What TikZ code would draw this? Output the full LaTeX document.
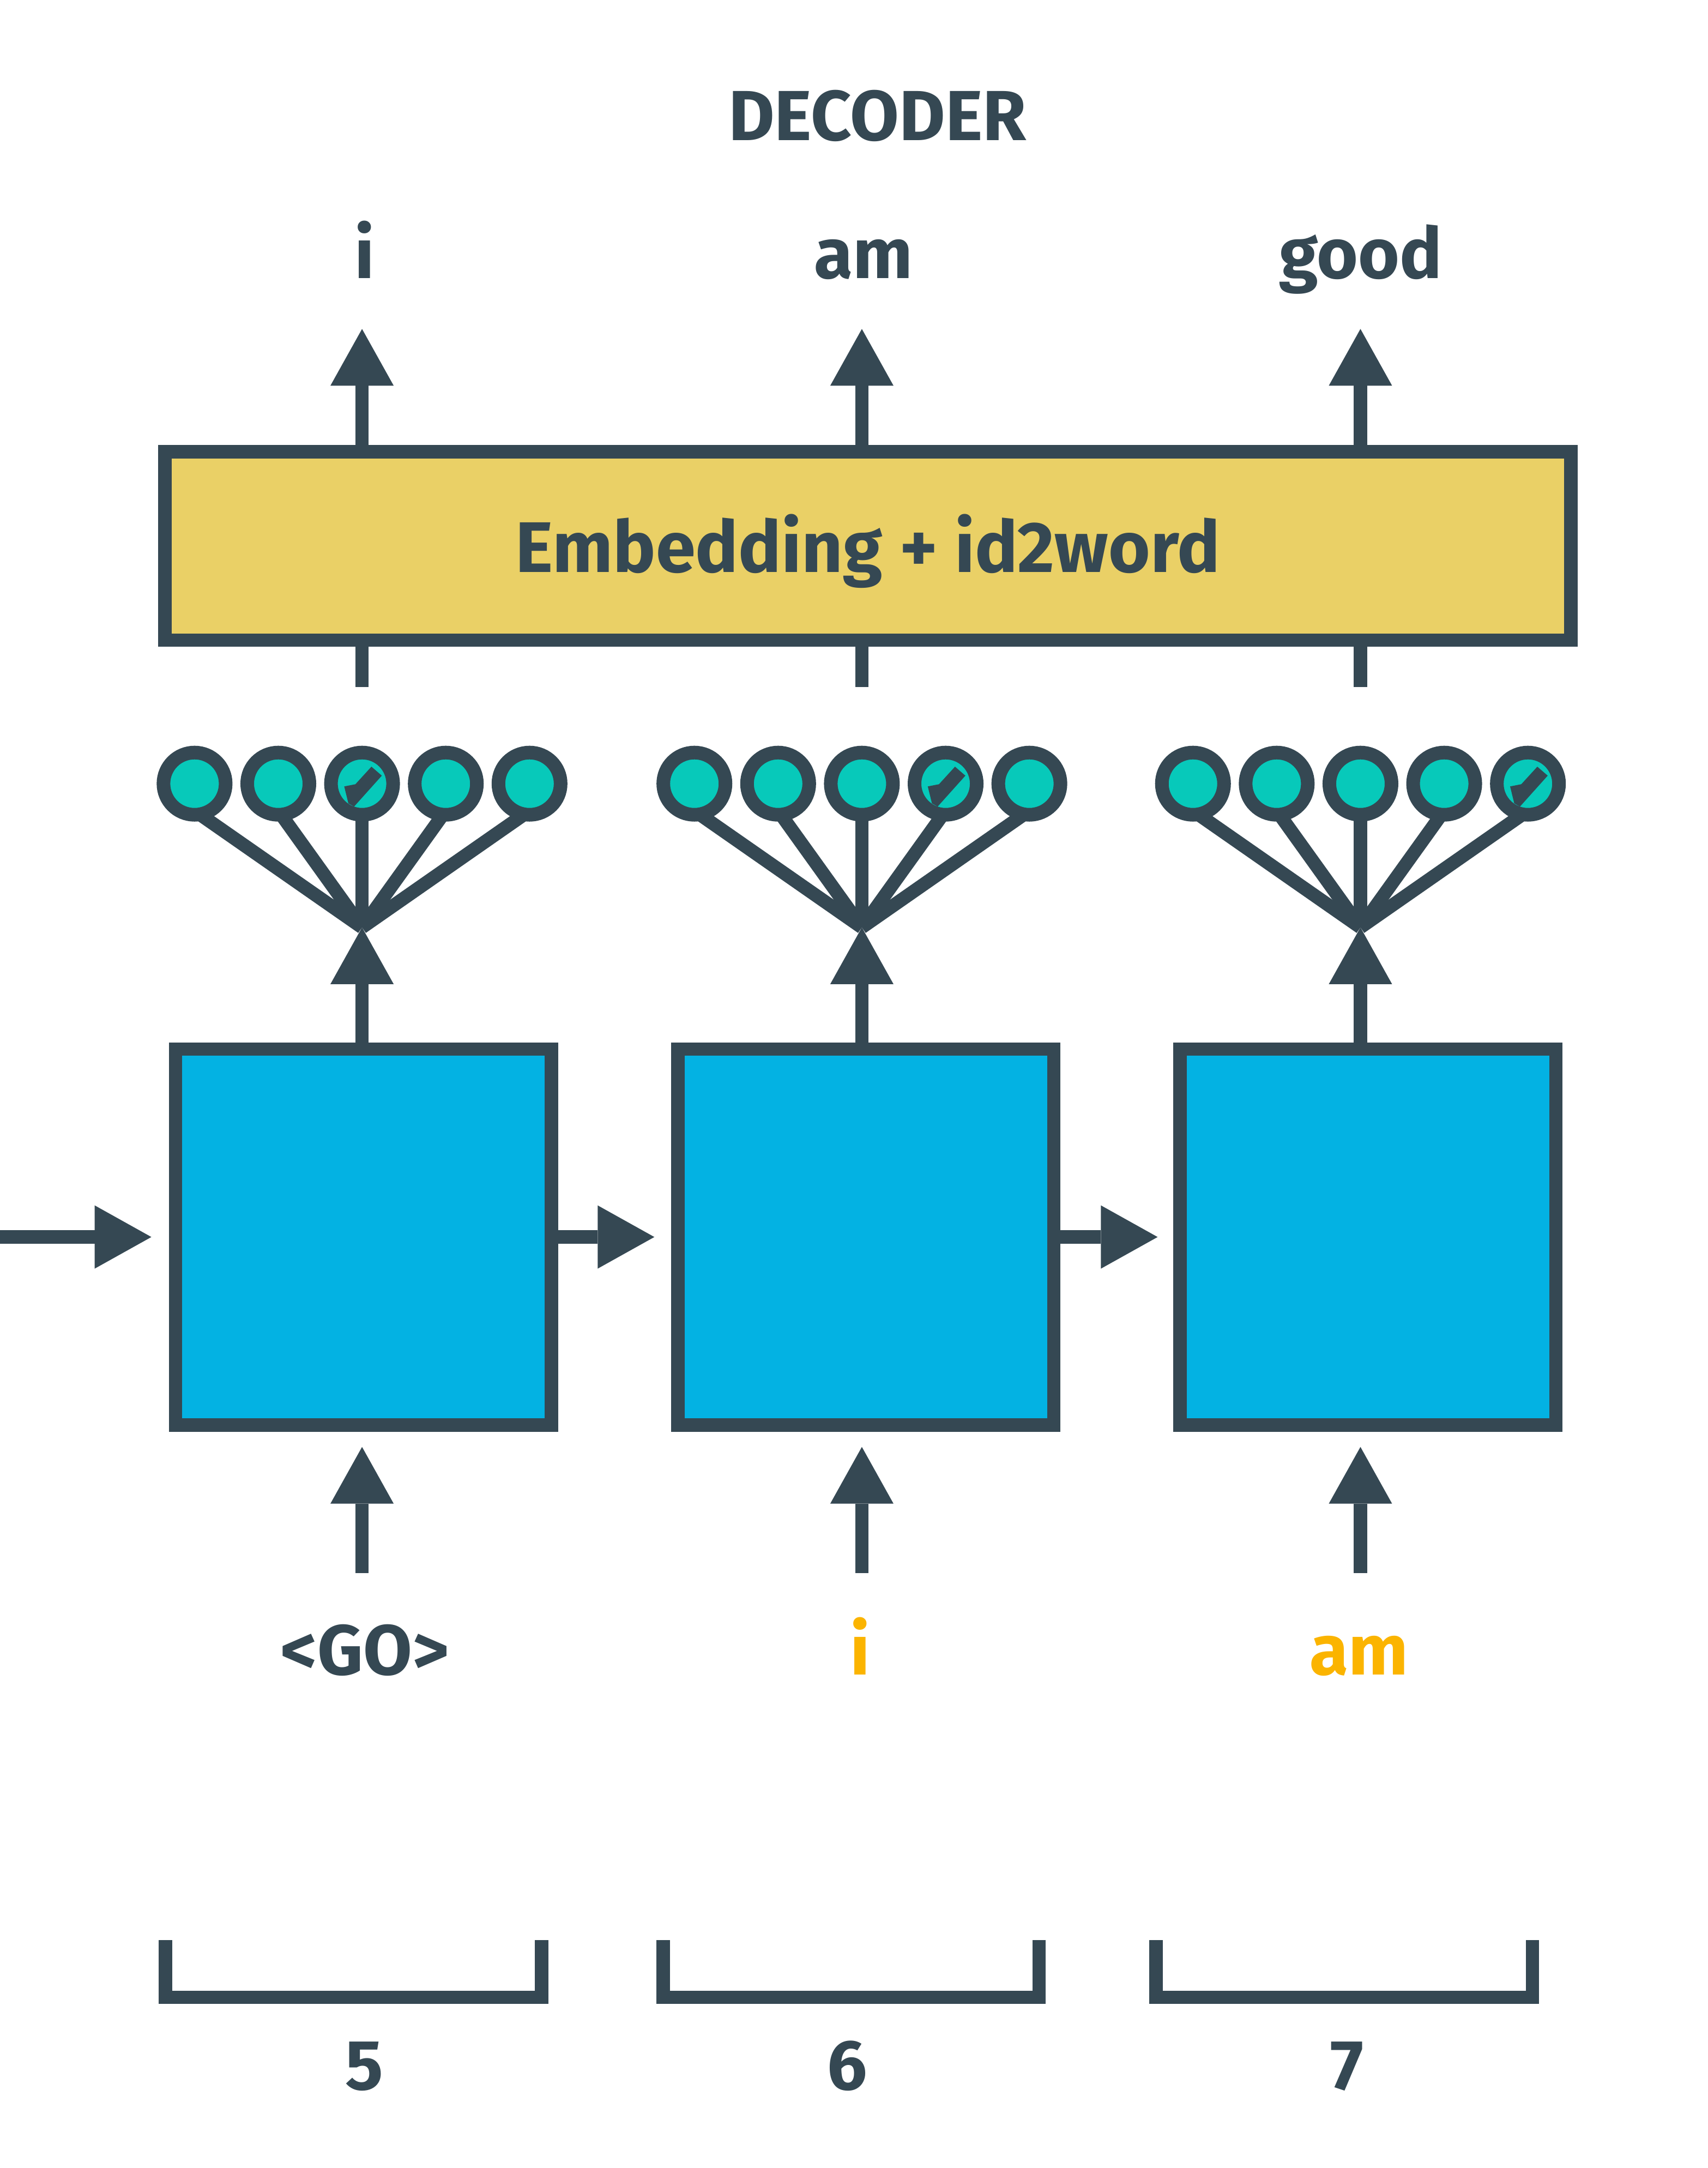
\documentclass[tikz,border=0pt]{standalone}
\usepackage{fontspec}
\setmainfont{Fira Sans}
\usetikzlibrary{arrows.meta,backgrounds}
\definecolor{inkcolor}{HTML}{354853}
\definecolor{cellcolor}{HTML}{03B2E3}
\definecolor{embedcolor}{HTML}{EAD066}
\definecolor{softcolor}{HTML}{07C9BA}
\definecolor{wordcolor}{HTML}{FBB400}
\newcommand{\pxu}{0.25348mm}
\tikzset{
  line/.style={draw=inkcolor,line width=2.45mm},
  arr/.style={line,-{Triangle[length=10.4mm,width=11.6mm,line width=0pt]}},
  cell/.style={line,fill=cellcolor,minimum width=272*\pxu,minimum height=272*\pxu,inner sep=0pt},
  embed/.style={line,fill=embedcolor,minimum width=1017.5*\pxu,minimum height=136.2*\pxu,
    inner sep=0pt,text height=9.6mm,text depth=0pt},
  soft/.style={circle,draw=inkcolor,line width=2.5mm,fill=softcolor,minimum size=45*\pxu,inner sep=0pt},
  word/.style={text=inkcolor,font=\fontsize{37}{42}\selectfont\bfseries,inner sep=0pt,anchor=base},
  newword/.style={word,text=wordcolor}
}

\begin{document}
\begin{tikzpicture}[x=\pxu,y=-\pxu]
  \useasboundingbox (0,0) rectangle (1236,1568.6);

  \node [word] (title) at (635,101.4) {DECODER};

  \node [embed,text=inkcolor,font=\fontsize{37.4}{42}\selectfont\bfseries] (emb) at (628,395)
    {Embedding + id2word};

  \node [cell] (c1) at (263,895) {};
  \node [cell] (c2) at (626.6,895) {};
  \node [cell] (c3) at (990,895) {};

  % softmax over the vocabulary
  \foreach \g/\xc in {1/262,2/623.7,3/984.5}{
    \coordinate (f\g) at (\xc,671);
    \coordinate (t\g) at (\xc,238);
    \coordinate (s\g) at (\xc,497);
    \coordinate (b\g) at (\xc,1138);
    \foreach \i in {1,...,5}
      \node [soft] (o\g\i) at ({\xc+(\i-3)*60.6},567) {};
  }
  \begin{scope}[on background layer]
    \foreach \g in {1,2,3}
      \foreach \i in {1,...,5}
        \draw [line] ([yshift=2mm]o\g\i.south) -- (f\g);
  \end{scope}
  \foreach \o in {o13,o24,o35}
    \fill [inkcolor,shift={(\o.center)}] (-12.9,2) -- (-4.8,0.4) -- (6.8,-12.3)
      -- (14.3,-5.8) -- (-5.8,16.6) -- (-9.9,14.2) -- cycle;

  \foreach \g in {1,2,3}{
    \draw [arr] (emb.north -| f\g) -- (t\g);
    \draw [line] (emb.south -| f\g) -- (s\g);
    \draw [arr] (c\g.north -| f\g) -- (f\g);
    \draw [arr,shorten >=2.8mm] (b\g) -- (c\g.south -| b\g);
  }

  \coordinate (h0) at (0,895);
  \draw [arr,shorten >=3.2mm] (h0) -- (c1.west);
  \draw [arr,shorten >=3.1mm] (c1.east) -- (c2.west);
  \draw [arr,shorten >=2.9mm] (c2.east) -- (c3.west);

  \node [word] (out1) at (263.7,201.5) {i};
  \node [word] (out2) at (625,201.5) {am};
  \node [word] (out3) at (984.7,201.5) {good};

  \node [word] (in1) at (264,1211.8) {<GO>};
  \node [newword] (in2) at (622.4,1211.8) {i};
  \node [newword] (in3) at (983.4,1211.8) {am};

  % time steps
  \draw [line] (119.7,1403.7) |- (392,1445) -- (392,1403.7);
  \draw [line] (480,1403.7) |- (752,1445) -- (752,1403.7);
  \draw [line] (836.6,1403.7) |- (1109,1445) -- (1109,1403.7);
  \node [word] (n1) at (263.7,1511.8) {5};
  \node [word] (n2) at (613.3,1511.8) {6};
  \node [word] (n3) at (975,1511.8) {7};
\end{tikzpicture}
\end{document}
